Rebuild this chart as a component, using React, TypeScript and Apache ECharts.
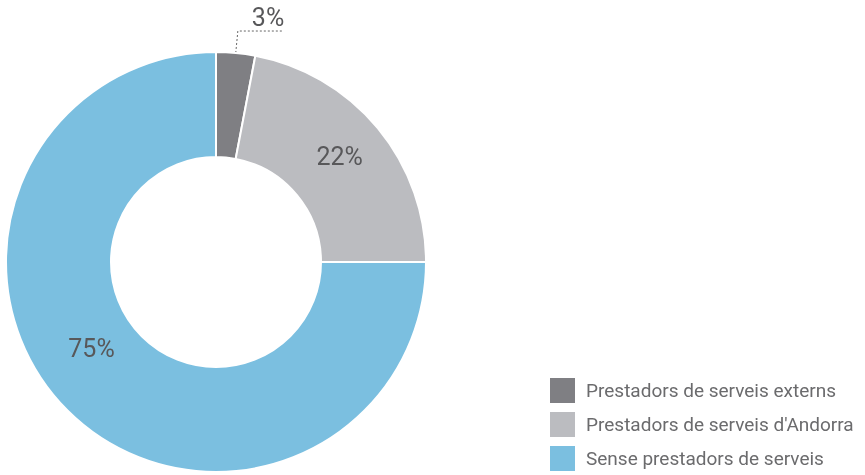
import React, { useEffect, useRef } from "react";
import * as echarts from "echarts";

const categories = [
  "Prestadors de serveis externs",
  "Prestadors de serveis d'Andorra",
  "Sense prestadors de serveis",
];
const values = [3, 22, 75];
const colors = ["#7f7f83", "#bbbcc0", "#7bbfe0"];

const FONT = "Roboto, 'Noto Sans', sans-serif";

export default function App() {
  const ref = useRef<HTMLDivElement>(null);
  useEffect(() => {
    if (!ref.current) return;
    const chart = echarts.init(ref.current, undefined, { renderer: "svg" });
    const mkLabel = (gap: number, extra: object) => ({
      show: true,
      fontSize: 25,
      color: "#58585a",
      fontFamily: FONT,
      formatter: "{t|{c}%}\n{g| }",
      rich: {
        t: { fontSize: 25, lineHeight: 30, color: "#58585a", fontFamily: FONT },
        g: { fontSize: 2, lineHeight: gap, height: gap },
      },
      ...extra,
    });
    const itemLabels = [
      mkLabel(28, { position: "outside", distanceToLabelLine: -30 }),
      mkLabel(6, { position: "inside" }),
      mkLabel(54, { position: "inside", padding: [0, 22, 0, 0] }),
    ];
    const data = categories.map((name, i) => ({
      name,
      value: values[i],
      itemStyle: { color: colors[i] },
      label: itemLabels[i],
      labelLine:
        i === 0
          ? {
              show: true,
              length: 22,
              length2: 44,
              lineStyle: { color: "#666", width: 1, type: [2, 2] },
            }
          : { show: false },
    }));
    chart.setOption({
      animation: false,
      legend: {
        orient: "vertical",
        left: 548,
        bottom: 2,
        padding: 0,
        itemWidth: 27,
        itemHeight: 27,
        itemGap: 5,
        icon: "rect",
        selectedMode: false,
        data: categories,
        textStyle: {
          fontSize: 19,
          color: "#6b6b6d",
          fontFamily: FONT,
          padding: [0, 0, 0, 5],
        },
      },
      series: [
        {
          type: "pie",
          center: [216, 262],
          radius: [105, 210],
          startAngle: 90,
          clockwise: true,
          itemStyle: { borderColor: "#fff", borderWidth: 2 },
          emphasis: { disabled: true },
          data,
        },
      ],
    });
    return () => chart.dispose();
  }, []);
  return (
    <div
      ref={ref}
      style={{ position: "fixed", left: 0, top: 0, width: 865, height: 475 }}
    />
  );
}
